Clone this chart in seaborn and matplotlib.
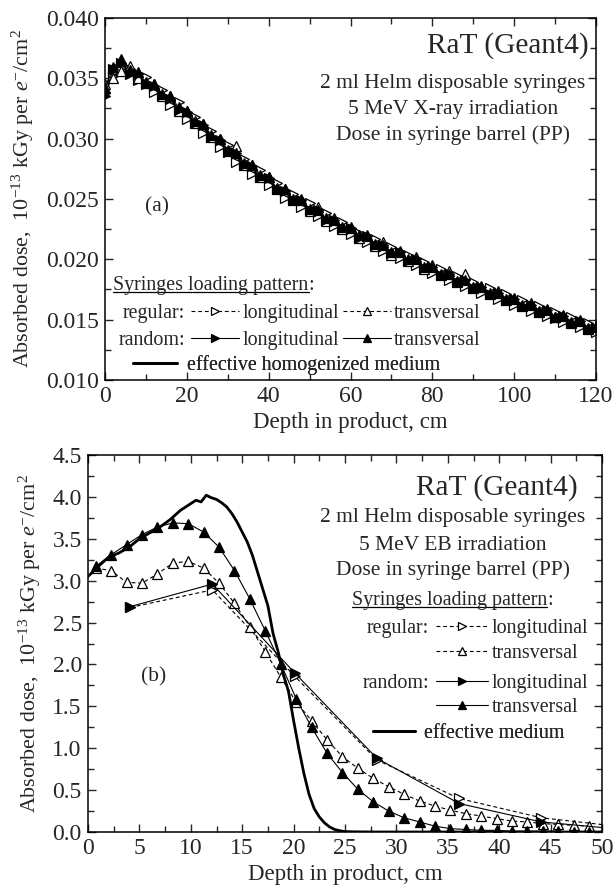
import numpy as np
import pandas as pd
import matplotlib
matplotlib.use("Agg")
import matplotlib.pyplot as plt
from matplotlib.ticker import MultipleLocator, FormatStrFormatter
from matplotlib.lines import Line2D
import seaborn as sns

# ---------------- data: (a) 5 MeV X-ray ----------------
depth_a = [0, 2, 4, 6, 8, 10, 12, 14, 16, 18, 20, 22, 24, 26, 28, 30, 32, 34, 36, 38,
           40, 42, 44, 46, 48, 50, 52, 54, 56, 58, 60, 62, 64, 66, 68, 70, 72, 74, 76, 78,
           80, 82, 84, 86, 88, 90, 92, 94, 96, 98, 100, 102, 104, 106, 108, 110, 112, 114, 116, 118, 120]
eff_a = [0.0341, 0.0355, 0.0362, 0.0356, 0.0353, 0.0347, 0.0343, 0.0336, 0.0333, 0.0325,
         0.0321, 0.0314, 0.0310, 0.0302, 0.0298, 0.0290, 0.0286, 0.0279, 0.0276, 0.0269,
         0.0266, 0.0259, 0.0256, 0.0250, 0.0248, 0.0242, 0.0240, 0.0234, 0.0232, 0.0227,
         0.0225, 0.0219, 0.0218, 0.0213, 0.0211, 0.0206, 0.0205, 0.0200, 0.0199, 0.0194,
         0.0193, 0.0188, 0.0187, 0.0182, 0.0182, 0.0177, 0.0176, 0.0172, 0.0171, 0.0167,
         0.0166, 0.0162, 0.0161, 0.0157, 0.0157, 0.0152, 0.0152, 0.0148, 0.0148, 0.0143, 0.0143]
reg_long_a = [0.0338, 0.0352, 0.0357, 0.0358, 0.0349, 0.0351, 0.0339, 0.0340, 0.0328, 0.0330,
              0.0316, 0.0318, 0.0305, 0.0306, 0.0293, 0.0295, 0.0281, 0.0283, 0.0271, 0.0274,
              0.0262, 0.0263, 0.0251, 0.0254, 0.0243, 0.0247, 0.0236, 0.0238, 0.0228, 0.0231,
              0.0221, 0.0222, 0.0214, 0.0217, 0.0207, 0.0210, 0.0201, 0.0204, 0.0195, 0.0198,
              0.0189, 0.0192, 0.0183, 0.0186, 0.0178, 0.0181, 0.0172, 0.0176, 0.0167, 0.0171,
              0.0162, 0.0166, 0.0157, 0.0161, 0.0153, 0.0156, 0.0148, 0.0152, 0.0144, 0.0147, 0.0140]
reg_trans_a = [0.0345, 0.0350, 0.0356, 0.0360, 0.0350, 0.0346, 0.0345, 0.0335, 0.0335, 0.0323,
               0.0323, 0.0313, 0.0312, 0.0301, 0.0300, 0.0290, 0.0294, 0.0278, 0.0278, 0.0268,
               0.0268, 0.0258, 0.0258, 0.0249, 0.0250, 0.0240, 0.0243, 0.0232, 0.0234, 0.0225,
               0.0227, 0.0218, 0.0220, 0.0211, 0.0214, 0.0204, 0.0207, 0.0199, 0.0202, 0.0192,
               0.0195, 0.0187, 0.0190, 0.0181, 0.0188, 0.0176, 0.0178, 0.0171, 0.0174, 0.0166,
               0.0168, 0.0161, 0.0164, 0.0156, 0.0159, 0.0152, 0.0154, 0.0147, 0.0150, 0.0142, 0.0145]
rand_long_a = [0.0335, 0.0358, 0.0363, 0.0354, 0.0354, 0.0345, 0.0344, 0.0336, 0.0333, 0.0324,
               0.0322, 0.0313, 0.0311, 0.0301, 0.0299, 0.0289, 0.0288, 0.0278, 0.0277, 0.0268,
               0.0267, 0.0258, 0.0257, 0.0249, 0.0249, 0.0241, 0.0241, 0.0233, 0.0233, 0.0226,
               0.0226, 0.0218, 0.0219, 0.0212, 0.0212, 0.0205, 0.0206, 0.0199, 0.0200, 0.0193,
               0.0194, 0.0187, 0.0188, 0.0181, 0.0183, 0.0176, 0.0177, 0.0171, 0.0172, 0.0166,
               0.0167, 0.0161, 0.0162, 0.0156, 0.0158, 0.0151, 0.0153, 0.0147, 0.0149, 0.0142, 0.0143]
rand_trans_a = [0.0342, 0.0359, 0.0366, 0.0357, 0.0355, 0.0347, 0.0345, 0.0337, 0.0335, 0.0326,
                0.0323, 0.0315, 0.0312, 0.0303, 0.0300, 0.0291, 0.0288, 0.0280, 0.0278, 0.0270,
                0.0268, 0.0259, 0.0258, 0.0250, 0.0249, 0.0242, 0.0241, 0.0234, 0.0233, 0.0227,
                0.0226, 0.0220, 0.0219, 0.0213, 0.0212, 0.0206, 0.0206, 0.0200, 0.0200, 0.0194,
                0.0194, 0.0188, 0.0188, 0.0182, 0.0183, 0.0177, 0.0177, 0.0172, 0.0172, 0.0167,
                0.0167, 0.0162, 0.0162, 0.0157, 0.0158, 0.0152, 0.0153, 0.0148, 0.0149, 0.0143, 0.0144]

# ---------------- data: (b) 5 MeV EB ----------------
eff_b_x = [0, 1, 2, 3, 4, 5, 6, 7, 8, 9, 10, 10.5, 11, 11.5, 12, 12.5, 13, 13.5, 14, 14.5,
           15, 15.5, 16, 16.5, 17, 17.5, 18, 18.5, 19, 19.5, 20, 20.5, 21, 21.5, 22, 22.5,
           23, 23.5, 24, 24.5, 25, 26, 28, 30, 35, 40, 45, 50]
eff_b_y = [3.05, 3.17, 3.28, 3.33, 3.40, 3.50, 3.57, 3.64, 3.73, 3.84, 3.92, 3.96, 3.94, 4.02,
           3.99, 3.97, 3.93, 3.88, 3.80, 3.70, 3.58, 3.46, 3.30, 3.10, 2.90, 2.70, 2.37, 2.15,
           1.88, 1.68, 1.33, 1.00, 0.70, 0.45, 0.28, 0.18, 0.11, 0.06, 0.03, 0.015, 0.005,
           0.002, 0.0, 0.0, 0.0, 0.0, 0.0, 0.0]
long_b_x = [4.1, 12.1, 20.1, 28.1, 36.1, 44.1, 52.1]
reg_long_b = [2.68, 2.89, 1.86, 0.86, 0.40, 0.17, 0.06]
rand_long_b = [2.69, 2.96, 1.90, 0.88, 0.34, 0.12, 0.03]
trans_b_x = [0.75, 2.25, 3.75, 5.25, 6.75, 8.25, 9.75, 11.25, 12.75, 14.25, 15.75, 17.25,
             18.75, 20.25, 21.75, 23.25, 24.75, 26.25, 27.75, 29.25, 30.75, 32.25, 33.75,
             35.25, 36.75, 38.25, 39.75, 41.25, 42.75, 44.25, 45.75, 47.25, 48.75]
reg_trans_b = [3.15, 3.12, 2.98, 2.97, 3.08, 3.21, 3.23, 3.15, 2.97, 2.73, 2.45, 2.15,
               1.85, 1.55, 1.33, 1.10, 0.90, 0.76, 0.64, 0.54, 0.45, 0.37, 0.31,
               0.26, 0.22, 0.19, 0.16, 0.13, 0.12, 0.10, 0.09, 0.08, 0.07]
rand_trans_b = [3.17, 3.31, 3.43, 3.55, 3.64, 3.69, 3.68, 3.58, 3.40, 3.12, 2.78, 2.40,
                2.01, 1.59, 1.25, 0.94, 0.71, 0.51, 0.36, 0.25, 0.17, 0.12, 0.07,
                0.04, 0.03, 0.02, 0.02, 0.01, 0.01, 0.01, 0.01, 0.00, 0.00]

# ---------------- style ----------------
sns.set_style("ticks")
plt.rcParams['font.family'] = ['Liberation Serif', 'DejaVu Serif']
plt.rcParams['mathtext.fontset'] = 'custom'
plt.rcParams['mathtext.rm'] = 'Liberation Serif'
plt.rcParams['mathtext.it'] = 'Liberation Serif:italic'
plt.rcParams['mathtext.bf'] = 'Liberation Serif:bold'
plt.rcParams['axes.linewidth'] = 1.1

FS_TICK = 17
FS_XLAB = 16.5
FS_YLAB = 15.8
FS_TXT = 15.5
FS_LEG = 14.4
FS_BIG = 21.2

W, H = 615, 890
fig = plt.figure(figsize=(W / 100, H / 100), dpi=100)
ax1 = fig.add_axes([105 / W, 1 - 380 / H, 491 / W, 362 / H])
ax2 = fig.add_axes([88 / W, 1 - 832 / H, 514 / W, 377 / H])

DASH = (0, (3.5, 2.5))
MS = 7.5
LW = 0.8


def series(ax, x, y, marker, filled, dashed, ms=MS):
    sns.lineplot(x=x, y=y, ax=ax, color='black', lw=LW,
                 linestyle=DASH if dashed else '-',
                 marker=marker, markersize=ms,
                 markerfacecolor='black' if filled else 'white',
                 markeredgecolor='black', markeredgewidth=0.9,
                 sort=False, estimator=None, legend=False)
    return ax.lines[-1]


def style_axes(ax, xmaj, xmin, ymaj, ymin, yfmt):
    ax.xaxis.set_major_locator(MultipleLocator(xmaj))
    ax.xaxis.set_minor_locator(MultipleLocator(xmin))
    ax.yaxis.set_major_locator(MultipleLocator(ymaj))
    ax.yaxis.set_minor_locator(MultipleLocator(ymin))
    ax.yaxis.set_major_formatter(FormatStrFormatter(yfmt))
    ax.tick_params(which='both', direction='in', top=True, right=True,
                   labelsize=FS_TICK, width=1.0, pad=4.5)
    ax.tick_params(which='major', length=5.5)
    ax.tick_params(which='minor', length=4)
    for s in ax.spines.values():
        s.set_visible(True)
        s.set_linewidth(1.1)
        s.set_color('black')
    ax.set_xlabel('Depth in product, cm', fontsize=FS_XLAB, labelpad=3.5)
    ax.set_ylabel(r'Absorbed dose,  10$^{-13}$ kGy per $e^{-}$/cm$^{2}$',
                  fontsize=FS_YLAB, labelpad=7)


def row_legend(ax, handles, labels, x, y, ncol=1, hl=2.4, pad=0.15, colsp=0.2):
    leg = ax.legend(handles, labels, loc='center left', bbox_to_anchor=(x, y),
                    bbox_transform=ax.transAxes, ncol=ncol, frameon=False,
                    borderpad=0, borderaxespad=0, handlelength=hl, handletextpad=pad,
                    columnspacing=colsp, fontsize=FS_LEG, markerscale=0.72)
    ax.add_artist(leg)
    return leg


def underlined_title(ax, text, x, y, ha='left'):
    t = ax.text(x, y, text, transform=ax.transAxes, ha=ha, va='center', fontsize=FS_LEG)
    fig.canvas.draw()
    bb = t.get_window_extent().transformed(ax.transAxes.inverted())
    ax.text(bb.x1, y, ':', transform=ax.transAxes, ha='left', va='center', fontsize=FS_LEG)
    yl = bb.y0 + 0.12 * (bb.y1 - bb.y0)
    ax.add_line(Line2D([bb.x0, bb.x1], [yl, yl], transform=ax.transAxes,
                       color='black', lw=0.9))


# ---------------- panel (a) ----------------
sns.lineplot(x=depth_a, y=eff_a, ax=ax1, color='black', lw=2.0, legend=False)
h_eff_a = ax1.lines[-1]
h_rl_a = series(ax1, depth_a, reg_long_a, '>', False, True)
h_rt_a = series(ax1, depth_a, reg_trans_a, '^', False, True)
h_ndl_a = series(ax1, depth_a, rand_long_a, '>', True, False)
h_ndt_a = series(ax1, depth_a, rand_trans_a, '^', True, False)

ax1.set_xlim(0, 120)
ax1.set_ylim(0.010, 0.040)
style_axes(ax1, 20, 10, 0.005, 0.0025, '%.3f')

ax1.text(0.984, 0.924, 'RaT (Geant4)', transform=ax1.transAxes, ha='right', va='center', fontsize=FS_BIG)
for yy, s in [(0.819, '2 ml Helm disposable syringes'),
              (0.748, '5 MeV X-ray irradiation'),
              (0.676, 'Dose in syringe barrel (PP)')]:
    ax1.text(0.709, yy, s, transform=ax1.transAxes, ha='center', va='center', fontsize=FS_TXT)
ax1.text(0.106, 0.477, '(a)', transform=ax1.transAxes, ha='center', va='center', fontsize=FS_TXT)

underlined_title(ax1, 'Syringes loading pattern', 0.017, 0.262)
ax1.text(0.163, 0.184, 'regular:', transform=ax1.transAxes, ha='right', va='center', fontsize=FS_LEG)
ax1.text(0.163, 0.110, 'random:', transform=ax1.transAxes, ha='right', va='center', fontsize=FS_LEG)
row_legend(ax1, [h_rl_a, h_rt_a], ['longitudinal', 'transversal'], 0.176, 0.184, ncol=2, hl=2.4, pad=0.15, colsp=0.2)
row_legend(ax1, [h_ndl_a, h_ndt_a], ['longitudinal', 'transversal'], 0.176, 0.110, ncol=2, hl=2.4, pad=0.15, colsp=0.2)
row_legend(ax1, [h_eff_a], ['effective homogenized medium'], 0.058, 0.041, hl=2.2, pad=0.5)

# ---------------- panel (b) ----------------
h_rl_b = series(ax2, long_b_x, reg_long_b, '>', False, True)
h_rt_b = series(ax2, trans_b_x, reg_trans_b, '^', False, True)
h_ndl_b = series(ax2, long_b_x, rand_long_b, '>', True, False)
h_ndt_b = series(ax2, trans_b_x, rand_trans_b, '^', True, False)
sns.lineplot(x=eff_b_x, y=eff_b_y, ax=ax2, color='black', lw=2.0, legend=False)
h_eff_b = ax2.lines[-1]

ax2.set_xlim(0, 50)
ax2.set_ylim(0.0, 4.5)
style_axes(ax2, 5, 2.5, 0.5, 0.25, '%.1f')

ax2.text(0.953, 0.915, 'RaT (Geant4)', transform=ax2.transAxes, ha='right', va='center', fontsize=FS_BIG)
for yy, s in [(0.835, '2 ml Helm disposable syringes'),
              (0.761, '5 MeV EB irradiation'),
              (0.695, 'Dose in syringe barrel (PP)')]:
    ax2.text(0.710, yy, s, transform=ax2.transAxes, ha='center', va='center', fontsize=FS_TXT)
ax2.text(0.127, 0.412, '(b)', transform=ax2.transAxes, ha='center', va='center', fontsize=FS_TXT)

underlined_title(ax2, 'Syringes loading pattern', 0.513, 0.615)
ax2.text(0.664, 0.541, 'regular:', transform=ax2.transAxes, ha='right', va='center', fontsize=FS_LEG)
ax2.text(0.664, 0.395, 'random:', transform=ax2.transAxes, ha='right', va='center', fontsize=FS_LEG)
row_legend(ax2, [h_rl_b], ['longitudinal'], 0.677, 0.541, hl=2.6, pad=0.17)
row_legend(ax2, [h_rt_b], ['transversal'], 0.677, 0.474, hl=2.6, pad=0.17)
row_legend(ax2, [h_ndl_b], ['longitudinal'], 0.677, 0.395, hl=2.6, pad=0.17)
row_legend(ax2, [h_ndt_b], ['transversal'], 0.677, 0.329, hl=2.6, pad=0.17)
row_legend(ax2, [h_eff_b], ['effective medium'], 0.554, 0.260, hl=2.1, pad=0.45)

fig.savefig('out.png', dpi=100)
